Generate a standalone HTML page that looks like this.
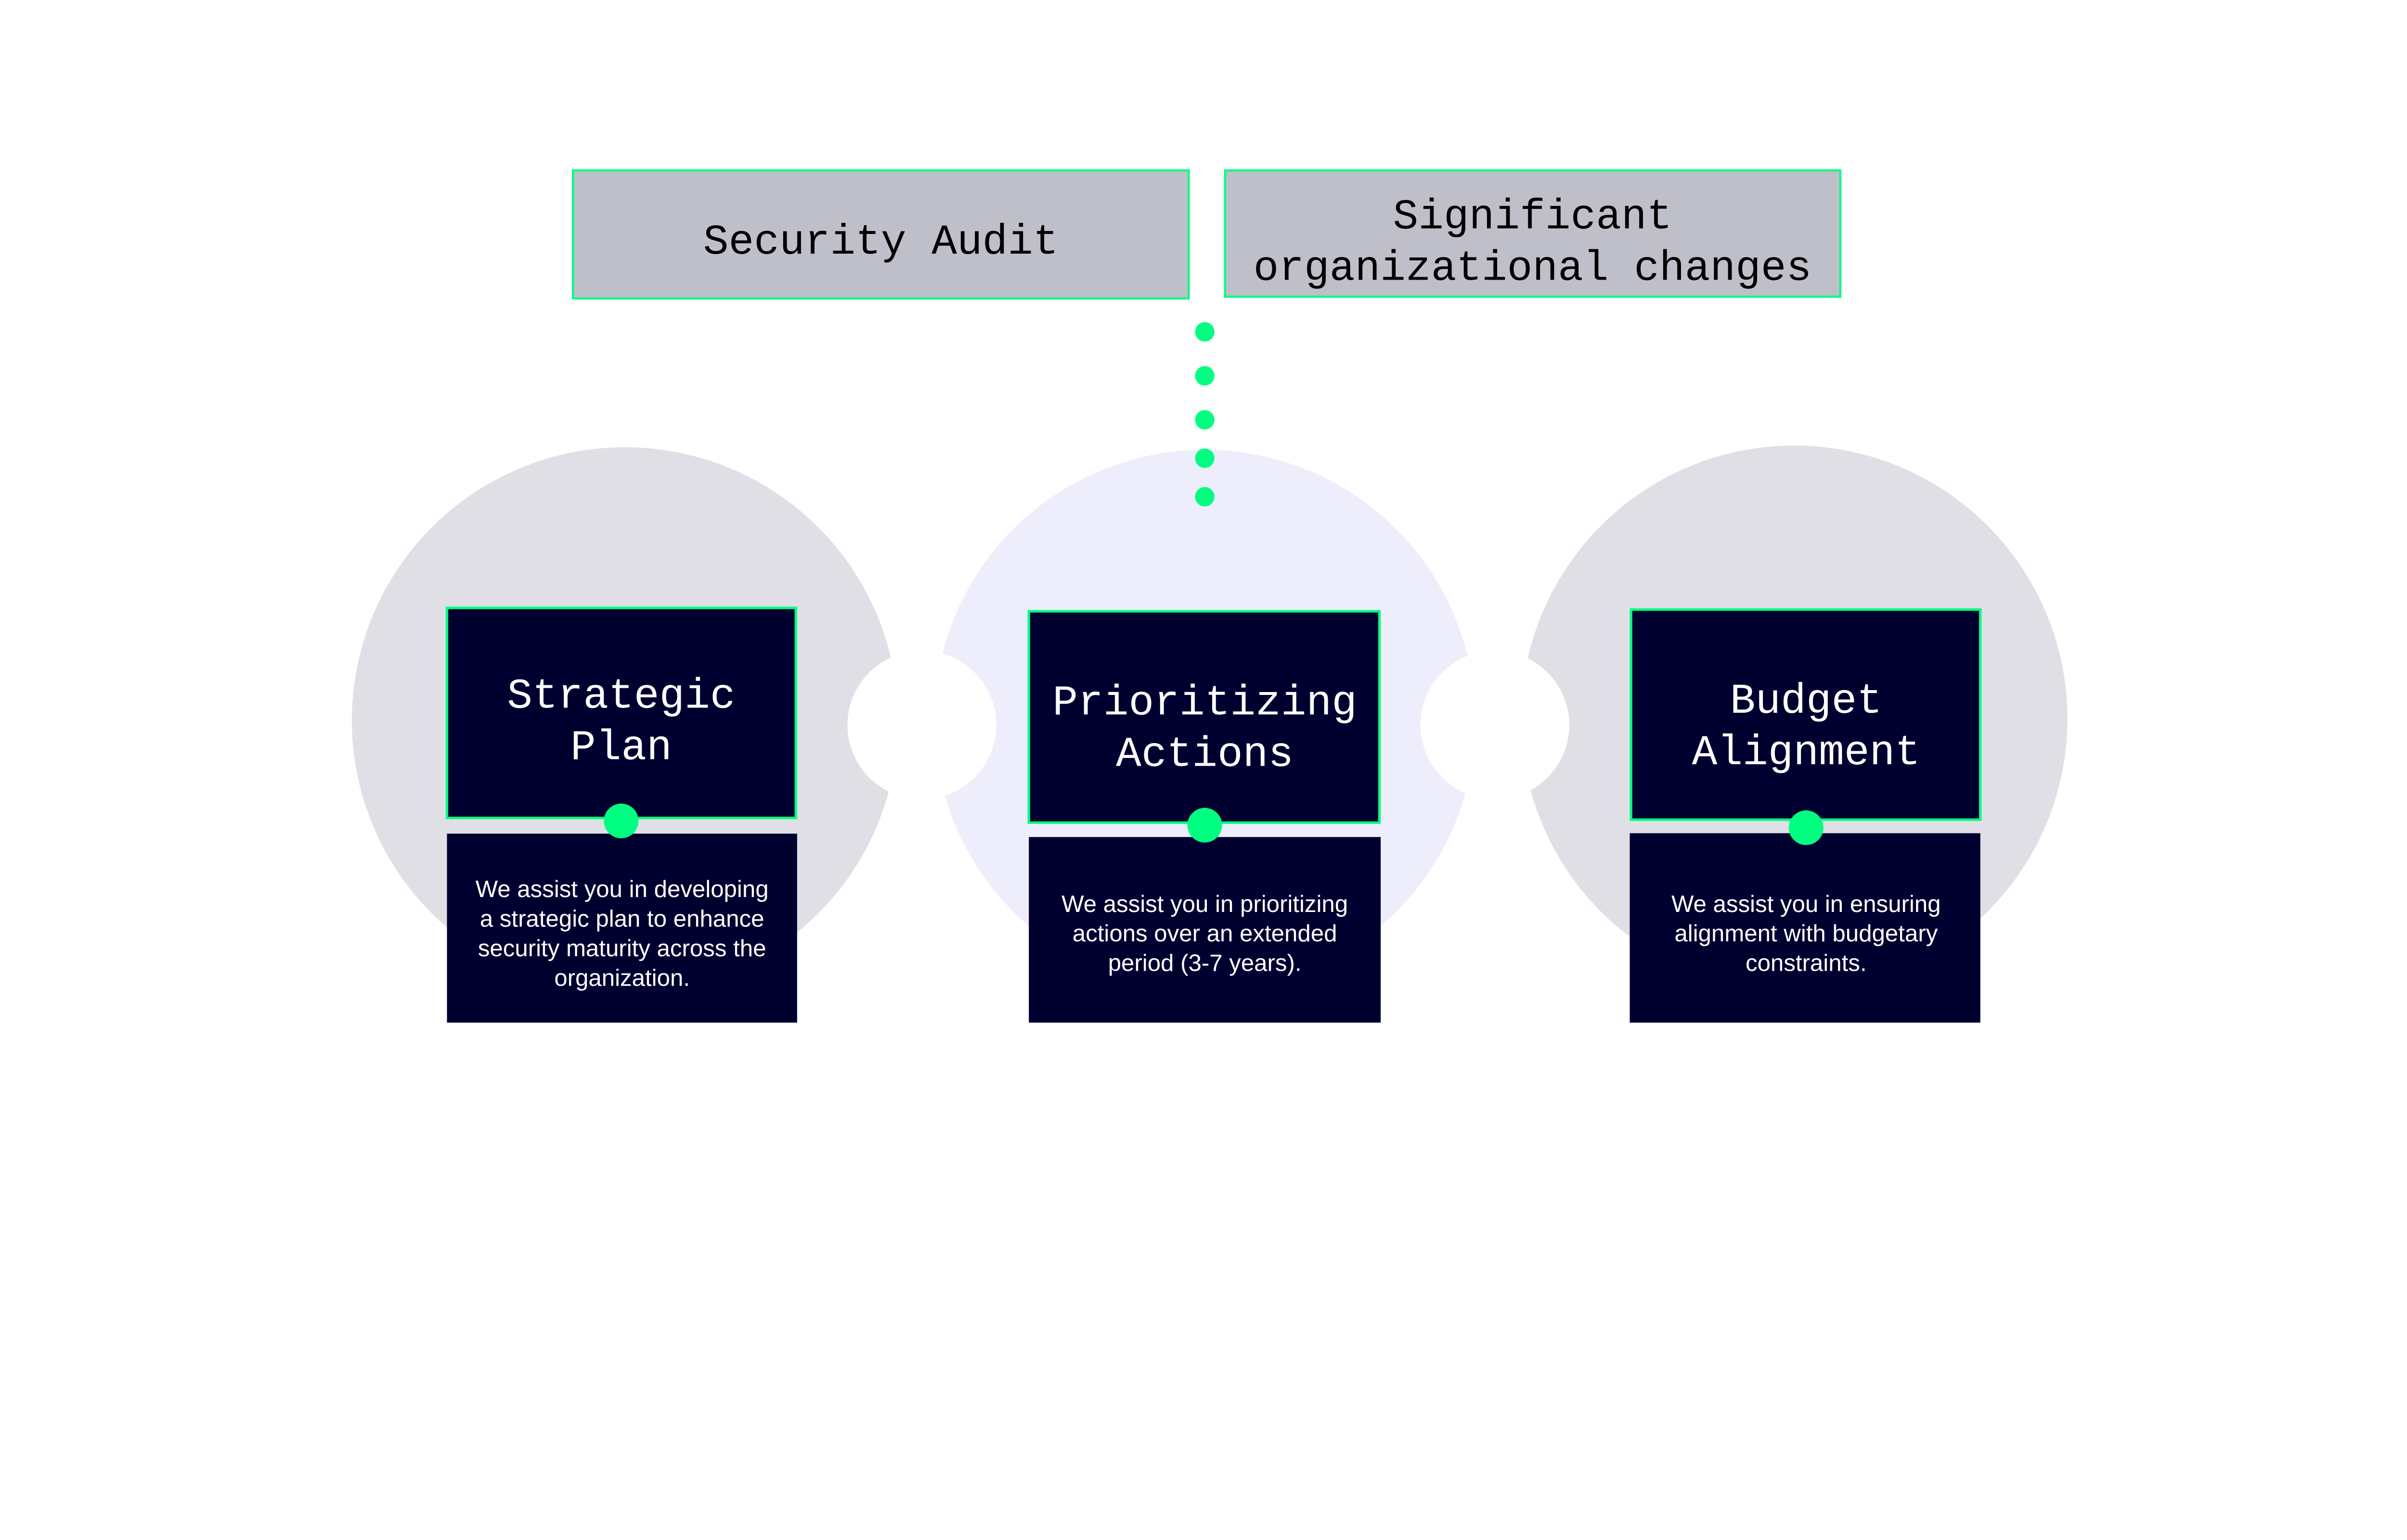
<!DOCTYPE html>
<html><head><meta charset="utf-8"><style>
html,body{margin:0;padding:0;background:#fff;width:100%;height:100%;overflow:hidden;}
svg{display:block;position:fixed;left:0;top:0;width:100vw;height:56.2192vw;}
.mono{font-family:"Liberation Mono","DejaVu Sans Mono",monospace;}
.sans{font-family:"Liberation Sans","DejaVu Sans",sans-serif;}
</style></head><body>
<svg viewBox="0 0 5692 3200" preserveAspectRatio="xMinYMin meet" xmlns="http://www.w3.org/2000/svg">
<rect width="5692" height="3200" fill="#ffffff"/>
<circle cx="1478" cy="1704" r="646" fill="#dfdfe5"/>
<circle cx="2849" cy="1704" r="640" fill="#eeedfb"/>
<circle cx="4243" cy="1700" r="646" fill="#dfdfe5"/>
<circle cx="2180" cy="1715" r="176" fill="#ffffff"/>
<circle cx="3535" cy="1715" r="176" fill="#ffffff"/>
<rect x="1355" y="403" width="1456" height="303" fill="#bfbfca" stroke="#00ff80" stroke-width="5"/>
<rect x="2897" y="403" width="1455" height="299" fill="#bfbfca" stroke="#00ff80" stroke-width="5"/>
<text class="mono" x="2083" y="600" font-size="100" fill="#000" text-anchor="middle">Security Audit</text>
<text class="mono" x="3624" y="540" font-size="100" fill="#000" text-anchor="middle">Significant</text>
<text class="mono" x="3624" y="662" font-size="100" fill="#000" text-anchor="middle">organizational changes</text>
<g fill="#00ff80">
<circle cx="2849" cy="785" r="23"/>
<circle cx="2849" cy="889" r="23"/>
<circle cx="2849" cy="993" r="23"/>
<circle cx="2849" cy="1084" r="23"/>
<circle cx="2849" cy="1175" r="23"/>
</g>
<g fill="#000030" stroke="#00ff80" stroke-width="6">
<rect x="1057" y="1438" width="825" height="497"/>
<rect x="2433" y="1446" width="829" height="500"/>
<rect x="3857" y="1442" width="826" height="497"/>
</g>
<g fill="#000030">
<rect x="1057" y="1972" width="828" height="447"/>
<rect x="2433" y="1980" width="832" height="439"/>
<rect x="3854" y="1971" width="829" height="448"/>
</g>
<g class="mono" font-size="100" fill="#fff" text-anchor="middle">
<text x="1469" y="1674">Strategic</text>
<text x="1469" y="1796">Plan</text>
<text x="2849" y="1690">Prioritizing</text>
<text x="2849" y="1812">Actions</text>
<text x="4271" y="1686">Budget</text>
<text x="4271" y="1808">Alignment</text>
</g>
<g fill="#00ff80">
<circle cx="1469" cy="1942" r="41"/>
<circle cx="2849" cy="1952" r="41"/>
<circle cx="4271" cy="1958" r="41"/>
</g>
<g class="sans" font-size="56" fill="#fff" text-anchor="middle">
<text x="1471" y="2122">We assist you in developing</text>
<text x="1471" y="2192">a strategic plan to enhance</text>
<text x="1471" y="2262">security maturity across the</text>
<text x="1471" y="2332">organization.</text>
<text x="2849" y="2157">We assist you in prioritizing</text>
<text x="2849" y="2227">actions over an extended</text>
<text x="2849" y="2297">period (3-7 years).</text>
<text x="4271" y="2157">We assist you in ensuring</text>
<text x="4271" y="2227">alignment with budgetary</text>
<text x="4271" y="2297">constraints.</text>
</g>
</svg>
</body></html>
